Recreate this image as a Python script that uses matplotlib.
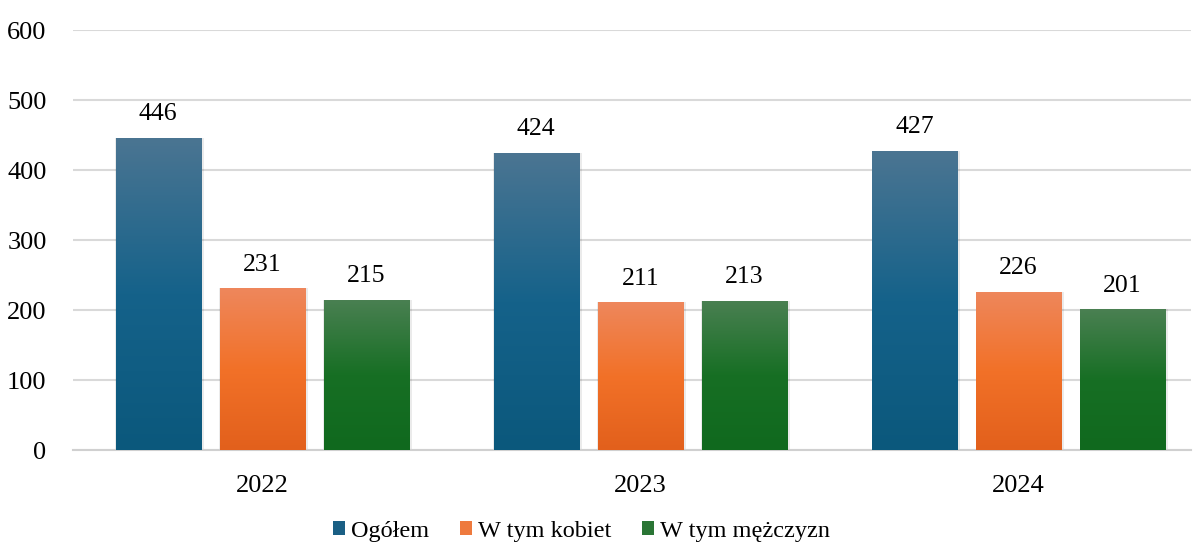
import numpy as np
import matplotlib
matplotlib.use('Agg')
import matplotlib.pyplot as plt
from matplotlib.colors import LinearSegmentedColormap
from matplotlib.patches import Patch

plt.rcParams['font.family'] = ['Liberation Serif', 'DejaVu Serif']

years = ['2022', '2023', '2024']
series = ['Ogółem', 'W tym kobiet', 'W tym mężczyzn']
ogolem = [446, 424, 427]
kobiet = [231, 211, 226]
mezczyzn = [215, 213, 201]

# gradient stops: top, middle, bottom
grads = [
    ['#4b7592', '#15628a', '#0b587c'],
    ['#ee875c', '#f27128', '#e2601c'],
    ['#4a8052', '#176f24', '#10691e'],
]
legend_cols = ['#1a5f84', '#ee7a3e', '#2a7535']

fig = plt.figure(figsize=(11.94, 5.47), dpi=100)
ax = fig.add_axes([0.0611, 0.1773, 0.936, 0.7678])

x = np.arange(len(years))
step = 0.275
width = 0.225
grad = np.linspace(0, 1, 256).reshape(-1, 1)

for i, vals in enumerate([ogolem, kobiet, mezczyzn]):
    cmap = LinearSegmentedColormap.from_list('g%d' % i, grads[i])
    bars = ax.bar(x + (i - 1) * step, vals, width, color='none', zorder=3)
    for b, v in zip(bars, vals):
        x0, x1 = b.get_x(), b.get_x() + b.get_width()
        # shadow
        ax.bar(b.get_x() + b.get_width() / 2 + 0.004, v, width + 0.01,
               color='#000000', alpha=0.08, zorder=2, linewidth=0)
        im = ax.imshow(grad, cmap=cmap, aspect='auto', extent=[x0, x1, 0, v],
                       zorder=3, interpolation='bicubic')
        im.set_clip_path(b)
        ax.text(b.get_x() + b.get_width() / 2, v + 34, str(v), ha='center',
                va='center', fontsize=18.5, color='black')

ax.set_xlim(-0.5, 2.455)
ax.set_ylim(0, 600)
ax.set_yticks(range(0, 601, 100))
ax.set_xticks(x)
ax.set_xticklabels(years)
ax.tick_params(axis='both', length=0, labelsize=19, colors='black')
ax.tick_params(axis='y', pad=19)
ax.tick_params(axis='x', pad=18)
ax.grid(axis='y', color='#d9d9d9', linewidth=1.5, zorder=0)
for s in ['top', 'right', 'left']:
    ax.spines[s].set_visible(False)
ax.spines['bottom'].set_color('#d0d0d0')
ax.spines['bottom'].set_linewidth(1.5)

handles = [Patch(facecolor=c, edgecolor='none') for c in legend_cols]
fig.legend(handles, series, loc='lower center', bbox_to_anchor=(0.487, -0.03),
           ncol=3, frameon=False, fontsize=17.5, handlelength=0.5, handleheight=0.5,
           handletextpad=0.25, columnspacing=1.25)

fig.savefig('out.png', dpi=100)
